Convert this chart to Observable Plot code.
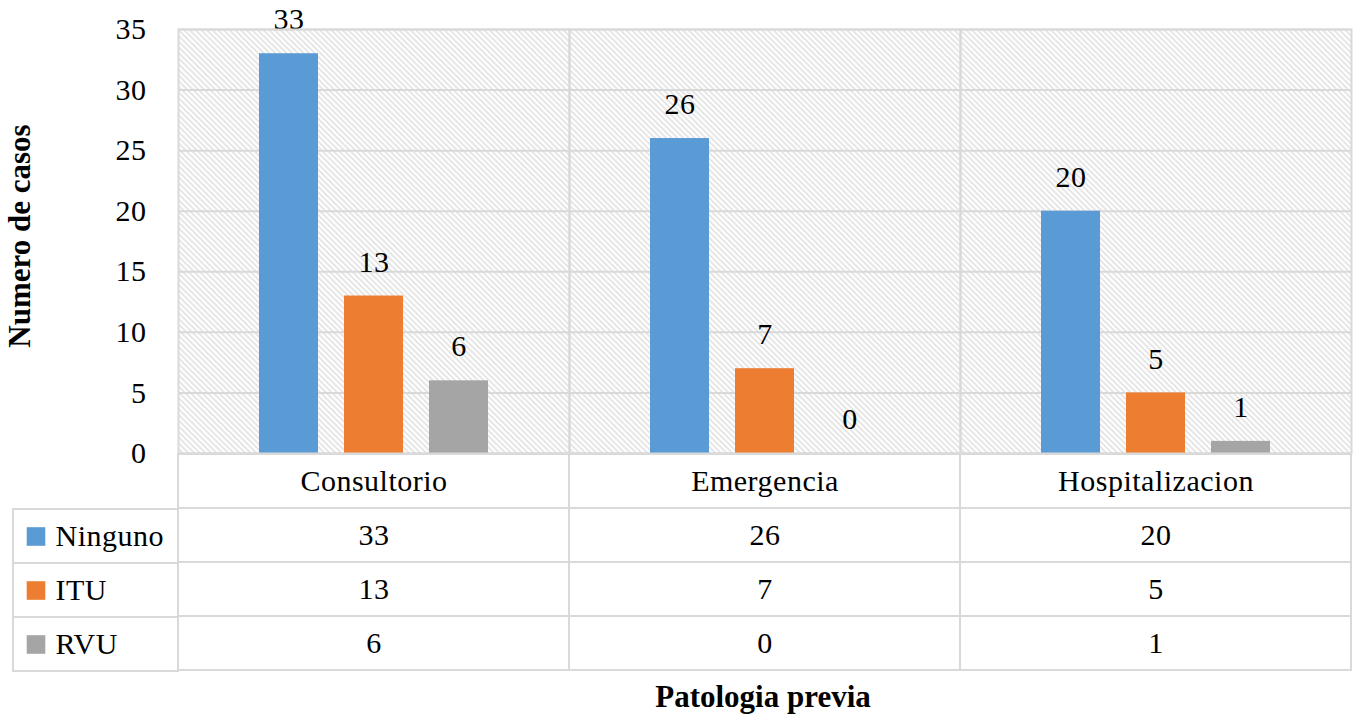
<!DOCTYPE html>
<html>
<head>
<meta charset="utf-8">
<script src="https://cdn.jsdelivr.net/npm/d3@7"></script>
<script src="https://cdn.jsdelivr.net/npm/@observablehq/plot@0.6"></script>
<style>
  html, body { margin: 0; padding: 0; background: #fff; }
  #wrap { position: relative; width: 1355px; height: 716px; font-family: "Liberation Serif", serif; color: #000; overflow: hidden; }
  #wrap > .p { position: absolute; }
  #wrap svg, #wrap svg text { font-family: "Liberation Serif", serif !important; }
  #wrap svg text { letter-spacing: 0.5px; }
  #ylab { position: absolute; left: 20px; top: 236px; transform: translate(-50%, -50%) rotate(-90deg); font-weight: bold; font-size: 31px; white-space: nowrap; }
  #xlab { position: absolute; left: 763px; top: 697px; transform: translate(-50%, -50%); font-weight: bold; font-size: 31px; white-space: nowrap; }
</style>
</head>
<body>
<div id="wrap">
  <div class="p" id="chart" style="left:0;top:0"></div>
  <div class="p" id="table" style="left:0;top:452px"></div>
  <div class="p" id="legend" style="left:0;top:507px"></div>
  <div id="ylab"></div>
  <div id="xlab"></div>
</div>
<script>
// ---- data ----
const categories = ["Consultorio", "Emergencia", "Hospitalizacion"];
const series = ["Ninguno", "ITU", "RVU"];
const ninguno = [33, 26, 20];
const itu = [13, 7, 5];
const rvu = [6, 0, 1];
const colors = ["#5B9BD5", "#ED7D31", "#A5A5A5"];
const yTicks = [0, 5, 10, 15, 20, 25, 30, 35];
const yLabel = "Numero de casos";
const xLabel = "Patologia previa";

const values = [ninguno, itu, rvu];
const rows = [];
categories.forEach((c, i) => series.forEach((s, j) => rows.push({cat: c, series: s, value: values[j][i]})));

const FONT = "'Liberation Serif', serif";
const FS = 30;
const GRID = "#d9d9d9";

// ---- main chart ----
const chart = Plot.plot({
  width: 1355, height: 455,
  marginLeft: 178, marginRight: 4, marginTop: 29, marginBottom: 2,
  style: {fontFamily: FONT, fontSize: FS + "px", color: "#000", background: "transparent", overflow: "visible"},
  fx: {domain: categories, padding: 0, axis: null},
  x: {domain: series, paddingInner: 0.3023, paddingOuter: 0.925, axis: null},
  y: {domain: [0, 35]},
  color: {domain: series, range: colors},
  marks: [
    Plot.frame({fill: "url(#hatch)", stroke: null}),
    Plot.gridY(yTicks, {stroke: GRID, strokeOpacity: 1, strokeWidth: 2}),
    Plot.axisY(yTicks, {tickSize: 0, tickPadding: 32, fontSize: FS, fontFamily: FONT, label: null}),
    Plot.barY(rows, {fx: "cat", x: "series", y: "value", fill: "series"}),
    Plot.text(rows, {fx: "cat", x: "series", y: "value", text: d => String(d.value), dy: -34, lineAnchor: "middle", fontSize: FS, fontFamily: FONT, fill: "#000"}),
    Plot.frame({stroke: GRID, strokeWidth: 2})
  ]
});
const ns = "http://www.w3.org/2000/svg";
const defs = document.createElementNS(ns, "defs");
defs.innerHTML = `<pattern id="hatch" patternUnits="userSpaceOnUse" width="4" height="4" patternTransform="rotate(-45)"><rect width="4" height="4" fill="#ffffff"/><line x1="1" y1="0" x2="1" y2="4" stroke="#d2d2d2" stroke-width="1.1"/></pattern>`;
chart.insertBefore(defs, chart.firstChild);
document.getElementById("chart").appendChild(chart);

// ---- data table ----
const headerKey = " ";
const headerCells = categories.map(c => ({cat: c, series: headerKey, label: c}));
const valueCells = rows.map(d => ({cat: d.cat, series: d.series, label: String(d.value)}));
const table = Plot.plot({
  width: 1355, height: 220,
  marginLeft: 178, marginRight: 4, marginTop: 1, marginBottom: 1,
  style: {fontFamily: FONT, fontSize: FS + "px", color: "#000", background: "transparent", overflow: "visible"},
  x: {domain: categories, padding: 0, axis: null},
  y: {domain: [headerKey, ...series], padding: 0, axis: null},
  marks: [
    Plot.cell([...headerCells, ...valueCells], {x: "cat", y: "series", fill: "none", stroke: GRID, strokeWidth: 2}),
    Plot.text([...headerCells, ...valueCells], {x: "cat", y: "series", text: "label", fontSize: FS, fontFamily: FONT, fill: "#000", lineAnchor: "middle"})
  ]
});
document.getElementById("table").appendChild(table);

// ---- legend column ----
const legend = Plot.plot({
  width: 180, height: 166,
  marginLeft: 13, marginRight: 2, marginTop: 1, marginBottom: 1,
  style: {fontFamily: FONT, fontSize: FS + "px", color: "#000", background: "transparent", overflow: "visible"},
  y: {domain: series, padding: 0, axis: null},
  color: {domain: series, range: colors},
  marks: [
    Plot.cell(series, {y: d => d, fill: "none", stroke: GRID, strokeWidth: 2}),
    Plot.dot(series, {y: d => d, frameAnchor: "left", dx: 22.5, symbol: "square", r: 10.5, fill: d => d, stroke: null}),
    Plot.text(series, {y: d => d, frameAnchor: "left", dx: 42, textAnchor: "start", text: d => d, fontSize: FS, fontFamily: FONT, fill: "#000", lineAnchor: "middle"})
  ]
});
document.getElementById("legend").appendChild(legend);

document.getElementById("ylab").textContent = yLabel;
document.getElementById("xlab").textContent = xLabel;
</script>
</body>
</html>
